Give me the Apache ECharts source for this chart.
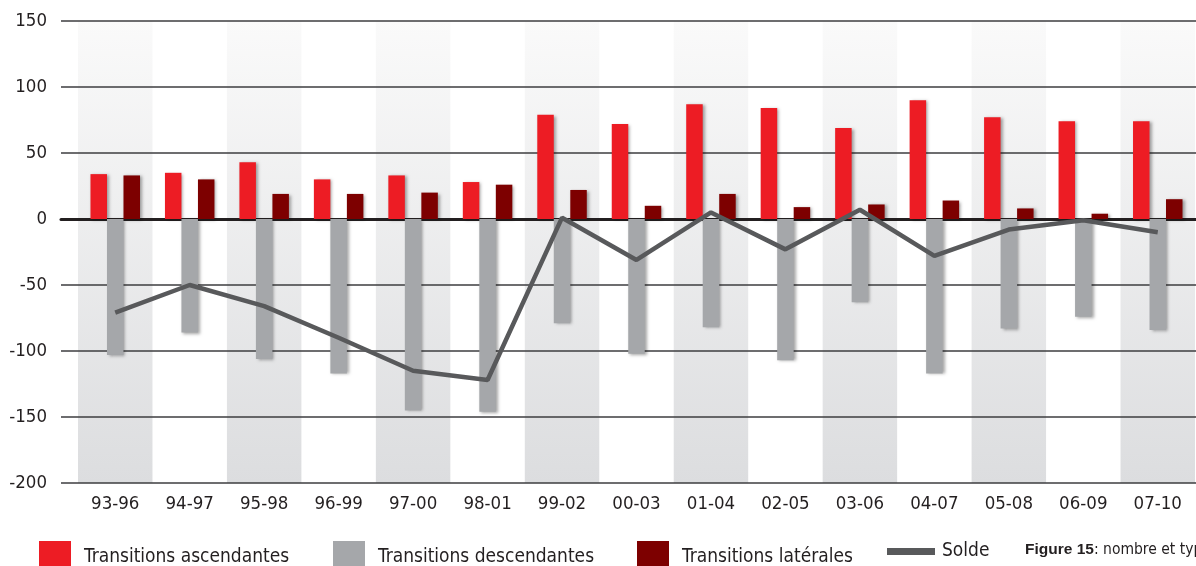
<!DOCTYPE html>
<html>
<head>
<meta charset="utf-8">
<script src="https://cdn.jsdelivr.net/npm/echarts@6/dist/echarts.min.js"></script>
<style>
html,body{margin:0;padding:0;background:#fff;}
#chart{width:1196px;height:566px;}
</style>
</head>
<body>
<div id="chart"></div>
<script>
const categories = ['93-96','94-97','95-98','96-99','97-00','98-01','99-02','00-03','01-04','02-05','03-06','04-07','05-08','06-09','07-10'];
const ascendantes = [34,35,43,30,33,28,79,72,87,84,69,90,77,74,74];
const descendantes = [-103,-86,-106,-117,-145,-146,-79,-102,-82,-107,-63,-117,-83,-74,-84];
const laterales = [33,30,19,19,20,26,22,10,19,9,11,14,8,4,15];
const solde = [-71,-50,-66,-90,-115,-122,1,-31,5,-23,7,-28,-8,-1,-10];
const yTicks = [-200,-150,-100,-50,0,50,100,150];

const FONT = '"DejaVu Sans Condensed","Liberation Sans",sans-serif';
const chart = echarts.init(document.getElementById('chart'));

const bandGrad = {type:'linear',x:0,y:0,x2:0,y2:1,colorStops:[{offset:0,color:'#fafafa'},{offset:1,color:'#dcdddf'}]};
const barShadow = {shadowColor:'rgba(0,0,0,0.35)',shadowBlur:3,shadowOffsetX:2,shadowOffsetY:1};

const legendBase = {orient:'horizontal',icon:'rect',itemWidth:32,itemHeight:32,
  textStyle:{fontFamily:FONT,fontSize:19,color:'#231f20',padding:[0,0,0,8]}};

chart.setOption({
  animation:false,
  backgroundColor:'#ffffff',
  grid:[
    {left:61,right:0,top:21,height:462},
    {left:78,right:1,top:21,height:462}
  ],
  xAxis:[
    {gridIndex:0,type:'value',min:0,max:1,z:3,
     axisLine:{show:true,onZero:true,lineStyle:{color:'#231f20',width:3}},
     axisTick:{show:false},axisLabel:{show:false},splitLine:{show:false}},
    {gridIndex:1,type:'category',data:categories,boundaryGap:true,z:0,
     axisLine:{show:false},axisTick:{show:false},
     axisLabel:{interval:0,fontFamily:FONT,fontSize:18.5,color:'#231f20',margin:12},
     splitLine:{show:false},
     splitArea:{show:true,interval:0,areaStyle:{color:[bandGrad,'rgba(255,255,255,0)']}}}
  ],
  yAxis:[
    {gridIndex:0,type:'value',min:-200,max:150,interval:50,z:2,
     axisLine:{show:false},axisTick:{show:false},
     axisLabel:{fontFamily:FONT,fontSize:18.5,color:'#231f20',margin:14},
     splitLine:{show:true,lineStyle:{color:'#3d3d3f',width:1.5}}},
    {gridIndex:1,type:'value',min:-200,max:150,interval:50,show:false,splitLine:{show:false}}
  ],
  legend:[
    Object.assign({},legendBase,{left:34,top:536,data:['Transitions ascendantes']}),
    Object.assign({},legendBase,{left:328,top:536,data:['Transitions descendantes']}),
    Object.assign({},legendBase,{left:632,top:536,data:['Transitions latérales']}),
    Object.assign({},legendBase,{left:882,top:537,itemWidth:48,itemHeight:7,
      textStyle:{fontFamily:FONT,fontSize:19,color:'#231f20',padding:[0,0,0,2]},data:['Solde']})
  ],
  graphic:[
    {type:'text',left:1025,top:542,z:10,
     style:{text:'{b|Figure 15}{r|: nombre et types de transitions}',
       rich:{b:{fontFamily:'"Liberation Sans",sans-serif',fontSize:15.5,fontWeight:'bold',fill:'#231f20'},
             r:{fontFamily:FONT,fontSize:15.5,fill:'#231f20'}}}}
  ],
  series:[
    {name:'Transitions ascendantes',type:'bar',xAxisIndex:1,yAxisIndex:1,data:ascendantes,
     barWidth:16.5,barGap:'0%',z:3,itemStyle:Object.assign({color:'#ed1c24'},barShadow)},
    {name:'Transitions descendantes',type:'bar',xAxisIndex:1,yAxisIndex:1,data:descendantes,
     barWidth:16.5,barGap:'0%',z:3,itemStyle:Object.assign({color:'#a5a7aa'},barShadow)},
    {name:'Transitions latérales',type:'bar',xAxisIndex:1,yAxisIndex:1,data:laterales,
     barWidth:16.5,barGap:'0%',z:3,itemStyle:Object.assign({color:'#7d0000'},barShadow)},
    {name:'Solde',type:'line',xAxisIndex:1,yAxisIndex:1,data:solde,z:5,
     symbol:'none',lineStyle:{color:'#58595b',width:4.5},itemStyle:{color:'#58595b'}}
  ]
});
</script>
</body>
</html>
